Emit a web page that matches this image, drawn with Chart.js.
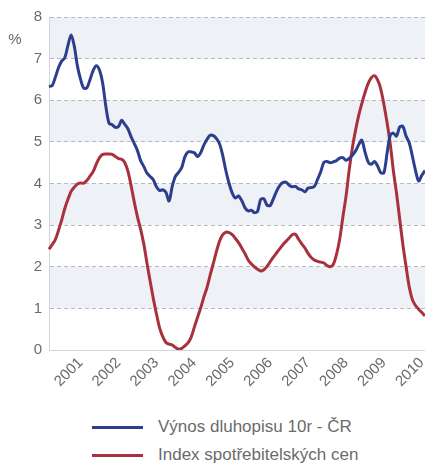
<!DOCTYPE html>
<html>
<head>
<meta charset="utf-8">
<script src="https://cdn.jsdelivr.net/npm/chart.js@4"></script>
<style>
  html, body { margin: 0; padding: 0; background: #fff; overflow: hidden; }
  #wrap { position: relative; width: 425px; height: 463px; }
  #legend { position: absolute; left: 92px; top: 413px; font-family: "Liberation Sans", Arial, sans-serif; font-size: 17px; color: #6b6b6b; }
  .item { display: flex; align-items: center; height: 28px; }
  .swatch { width: 51px; height: 3px; margin-right: 15px; }
</style>
</head>
<body>
<div id="wrap">
  <canvas id="chart" width="425" height="400"></canvas>
  <div id="legend"></div>
</div>
<script>
// monthly series, Mar 2000 - Feb 2010
const startYear = 2000;
const startMonth = 3;

const bondYield = [
  6.33, 6.35, 6.55, 6.78, 6.94, 7.02, 7.32, 7.57, 7.30, 6.82,
  6.50, 6.29, 6.30, 6.50, 6.72, 6.83, 6.72, 6.40, 5.85, 5.45,
  5.41, 5.35, 5.37, 5.52, 5.42, 5.31, 5.12, 4.96, 4.79, 4.55,
  4.41, 4.25, 4.17, 4.09, 3.92, 3.83, 3.85, 3.79, 3.58, 3.93,
  4.17, 4.27, 4.38, 4.64, 4.76, 4.76, 4.74, 4.65, 4.74, 4.92,
  5.06, 5.16, 5.15, 5.08, 4.95, 4.67, 4.30, 4.00, 3.77, 3.65,
  3.70, 3.59, 3.42, 3.34, 3.36, 3.30, 3.33, 3.62, 3.63, 3.48,
  3.47, 3.63, 3.81, 3.95, 4.02, 4.03, 3.96, 3.92, 3.93, 3.87,
  3.85, 3.80, 3.89, 3.90, 3.93, 4.10, 4.28, 4.51, 4.53, 4.50,
  4.52, 4.55, 4.61, 4.62, 4.56, 4.60, 4.68, 4.78, 4.93, 5.04,
  4.76, 4.52, 4.46, 4.53, 4.42, 4.26, 4.26, 4.73, 5.16, 5.21,
  5.14, 5.36, 5.37, 5.14, 4.98, 4.66, 4.31, 4.06, 4.20, 4.31
];

const cpiIndex = [
  2.42, 2.53, 2.65, 2.87, 3.12, 3.40, 3.62, 3.81, 3.91, 3.99,
  4.01, 4.01, 4.07, 4.18, 4.29, 4.47, 4.62, 4.70, 4.71, 4.71,
  4.70, 4.65, 4.60, 4.58, 4.50, 4.29, 3.94, 3.55, 3.20, 2.90,
  2.55, 2.09, 1.66, 1.24, 0.87, 0.53, 0.32, 0.18, 0.14, 0.12,
  0.06, 0.02, 0.04, 0.10, 0.17, 0.31, 0.55, 0.78, 1.01, 1.27,
  1.50, 1.80, 2.08, 2.37, 2.62, 2.77, 2.83, 2.82, 2.77, 2.68,
  2.58, 2.45, 2.32, 2.17, 2.07, 2.00, 1.94, 1.90, 1.93, 2.01,
  2.12, 2.23, 2.33, 2.43, 2.53, 2.61, 2.69, 2.77, 2.78, 2.66,
  2.55, 2.45, 2.32, 2.22, 2.16, 2.13, 2.11, 2.09, 2.03, 2.00,
  2.06, 2.30, 2.66, 3.19, 3.69, 4.32, 4.85, 5.27, 5.63, 5.92,
  6.18, 6.40, 6.54, 6.59, 6.49, 6.27, 5.90, 5.46, 4.95, 4.30,
  3.76, 3.14, 2.53, 2.01, 1.52, 1.21, 1.07, 0.98, 0.90, 0.82
];

const seriesNames = ['Výnos dluhopisu 10r - ČR', 'Index spotřebitelských cen'];
const seriesColors = ['#2d3f8c', '#a9313d'];

const months = [];
for (let i = 0; i < bondYield.length; i++) {
  const m = startMonth - 1 + i;
  const y = startYear + Math.floor(m / 12);
  const mm = (m % 12) + 1;
  months.push(y + '-' + (mm < 10 ? '0' + mm : mm));
}

const font = { family: '"Liberation Sans", Arial, sans-serif', size: 15 };

// alternating shaded bands + "%" label
const bands = {
  id: 'bands',
  beforeDraw(chart) {
    const { ctx, chartArea, scales } = chart;
    ctx.save();
    ctx.fillStyle = '#eef1f6';
    for (let v = 1; v < 8; v += 2) {
      const top = scales.y.getPixelForValue(v + 1);
      const bot = scales.y.getPixelForValue(v);
      ctx.fillRect(chartArea.left, top, chartArea.right - chartArea.left, bot - top);
    }
    ctx.fillStyle = '#6b6b6b';
    ctx.font = '15px "Liberation Sans", Arial, sans-serif';
    ctx.textAlign = 'center';
    ctx.textBaseline = 'middle';
    ctx.fillText('%', 15, chartArea.top + 23);
    ctx.restore();
  }
};

const chart = new Chart(document.getElementById('chart'), {
  type: 'line',
  data: {
    labels: months,
    datasets: [
      { label: seriesNames[0], data: bondYield, borderColor: seriesColors[0], borderWidth: 3, pointRadius: 0, tension: 0.3 },
      { label: seriesNames[1], data: cpiIndex, borderColor: seriesColors[1], borderWidth: 3, pointRadius: 0, tension: 0.3 }
    ]
  },
  options: {
    responsive: false,
    animation: false,
    layout: { padding: { top: 17, right: 0, left: 0, bottom: 0 } },
    plugins: { legend: { display: false }, tooltip: { enabled: false } },
    scales: {
      x: {
        offset: false,
        afterFit: (s) => { s.height = 50; s.paddingRight = 0; s.paddingLeft = 0; },
        grid: { display: false, drawTicks: false },
        border: { display: true, color: '#cfd5de', width: 1 },
        ticks: {
          autoSkip: false,
          minRotation: 45,
          maxRotation: 45,
          padding: 4,
          color: '#6b6b6b',
          font: font,
          callback: function (val) {
            const l = this.getLabelForValue(val);
            return l.endsWith('-01') ? l.slice(0, 4) : '';
          }
        }
      },
      y: {
        min: 0,
        max: 8,
        afterFit: (s) => { s.width = 49; },
        grid: {
          drawTicks: false,
          color: (c) => c.tick.value === 0 ? 'rgba(0,0,0,0)' : '#b4b9c2',
          lineWidth: 1
        },
        border: { display: true, color: '#cfd5de', width: 1, dash: [4, 3] },
        ticks: { stepSize: 1, padding: 7, color: '#6b6b6b', font: font }
      }
    }
  },
  plugins: [bands]
});

// html legend built from the datasets
const legend = document.getElementById('legend');
chart.data.datasets.forEach((ds) => {
  const row = document.createElement('div');
  row.className = 'item';
  const sw = document.createElement('span');
  sw.className = 'swatch';
  sw.style.background = ds.borderColor;
  const tx = document.createElement('span');
  tx.textContent = ds.label;
  row.appendChild(sw);
  row.appendChild(tx);
  legend.appendChild(row);
});
</script>
</body>
</html>
